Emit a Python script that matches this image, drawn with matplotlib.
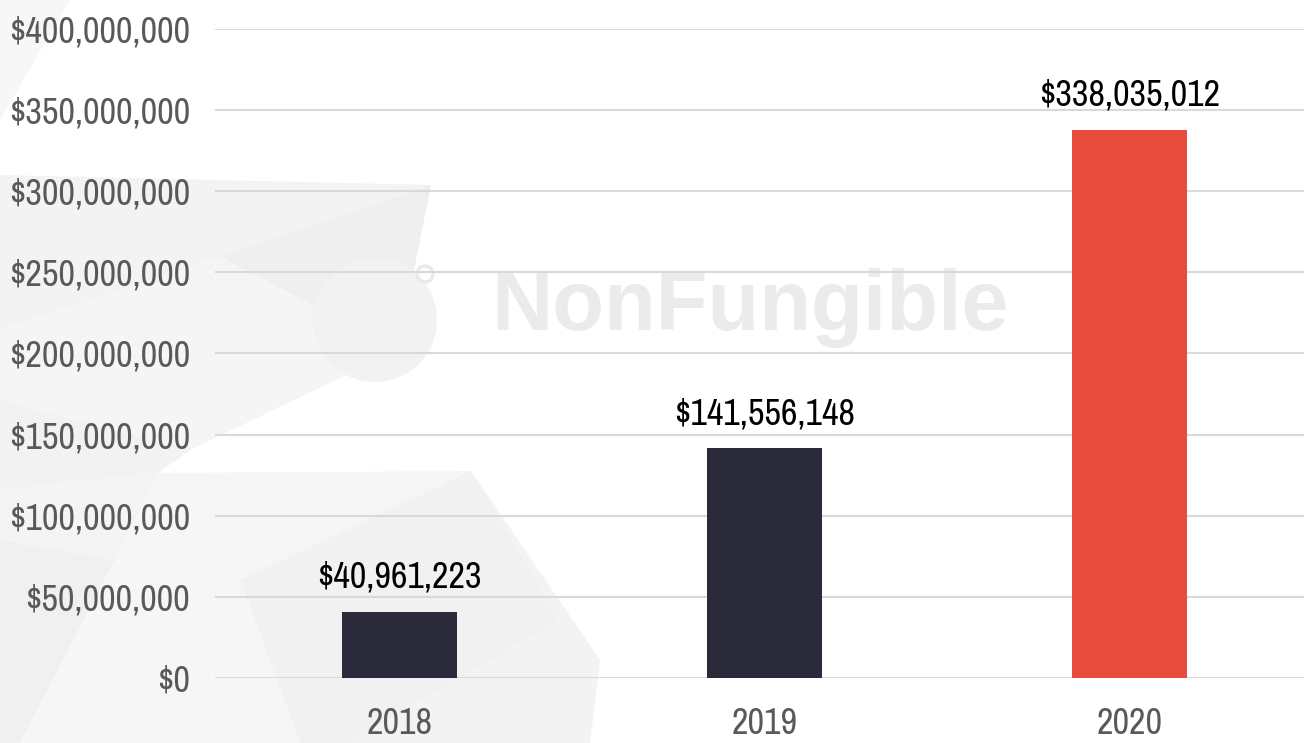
import matplotlib
matplotlib.use('Agg')
import matplotlib.pyplot as plt
from matplotlib import font_manager
from matplotlib.patches import Polygon, Ellipse
from matplotlib.ticker import FuncFormatter

# Data
years = ['2018', '2019', '2020']
sales = [40961223, 141556148, 338035012]
bar_colors = ['#2b2a3b', '#2b2a3b', '#e84c3d']
y_ticks = list(range(0, 400000001, 50000000))

# pick a narrow font if one is installed
fonts = font_manager.fontManager.ttflist
narrow = [f for f in fonts if 'Narrow' in f.name or 'Condensed' in f.name]
cond = [f for f in fonts if str(f.stretch) in ('condensed', 'semi-condensed', '75', '87')]
if narrow:
    family, stretch, size = narrow[0].name, 'normal', 26
elif cond:
    family, stretch, size = cond[0].name, 'condensed', 26
else:
    family, stretch, size = 'Liberation Sans', 'normal', 22
plt.rcParams['font.family'] = [family, 'DejaVu Sans']
plt.rcParams['font.stretch'] = stretch
plt.rcParams['font.weight'] = 'light'

fig = plt.figure(figsize=(13.04, 7.43), dpi=100)
fig.patch.set_facecolor('white')

# faint background shapes (pixel coords -> figure coords)
H = 743.0
W = 1304.0
def fp(pts):
    return [(px / W, 1 - py / H) for px, py in pts]

shapes = [
    ([(0, 0), (70, 0), (0, 60)], '#f4f4f4'),
    ([(0, 0), (70, 0), (0, 120)], '#f7f7f7'),
    ([(0, 175), (431, 185), (220, 257), (0, 330)], '#f3f3f3'),
    ([(220, 257), (431, 185), (398, 350)], '#efefef'),
    ([(0, 330), (220, 257), (398, 350), (190, 450), (0, 400)], '#f5f5f5'),
    ([(0, 400), (190, 450), (158, 473), (0, 490)], '#f2f2f2'),
    ([(0, 490), (158, 473), (115, 560), (0, 540)], '#f4f4f4'),
    ([(158, 473), (471, 471), (240, 580), (115, 560)], '#f6f6f6'),
    ([(240, 580), (471, 471), (560, 620), (350, 743), (300, 743)], '#f1f1f1'),
    ([(0, 540), (115, 560), (20, 743), (0, 743)], '#f0f0f0'),
    ([(115, 560), (240, 580), (300, 743), (20, 743)], '#f6f6f6'),
    ([(471, 471), (600, 660), (590, 743), (350, 743), (560, 620)], '#f3f3f3'),
]
for pts, c in shapes:
    fig.patches.append(Polygon(fp(pts), closed=True, transform=fig.transFigure,
                               facecolor=c, edgecolor='none', zorder=0))

# faint logo mark next to the watermark text
fig.patches.append(Ellipse((375 / W, 1 - 320 / H), 124 / W, 124 / H,
                           transform=fig.transFigure, facecolor='#f2f2f2',
                           edgecolor='none', zorder=0.5))
fig.patches.append(Ellipse((425 / W, 1 - 274 / H), 16 / W, 16 / H,
                           transform=fig.transFigure, facecolor='none',
                           edgecolor='#eaeaea', linewidth=2.5, zorder=0.5))

fig.text(0.5755, 0.585, 'NonFungible', fontsize=61, fontweight='bold',
         color='#ebebeb', family=['Liberation Sans', 'DejaVu Sans'],
         stretch='normal', ha='center', va='center', zorder=0.5)

ax = fig.add_axes([215 / W, 0.0875, 1089 / W, 0.8735])
ax.set_zorder(2)
ax.set_facecolor('none')

x = range(len(years))
bars = ax.bar(x, sales, width=0.315, color=bar_colors, zorder=3)

ax.set_xlim(-0.5055, 2.478)
ax.set_ylim(0, 400000000)
ax.set_yticks(y_ticks)
ax.yaxis.set_major_formatter(FuncFormatter(lambda v, p: f'${v:,.0f}'))
ax.set_xticks(list(x))
ax.set_xticklabels(years)
ax.grid(axis='y', color='#d9d9d9', linewidth=1.5, zorder=1)
ax.set_axisbelow(True)
for s in ax.spines.values():
    s.set_visible(False)
ax.tick_params(axis='both', length=0, labelsize=size, labelcolor='#595959')
ax.tick_params(axis='y', pad=18)
ax.tick_params(axis='x', pad=21)

for b, v in zip(bars, sales):
    ax.text(b.get_x() + b.get_width() / 2, v + 11000000, f'${v:,.0f}',
            ha='center', va='bottom', fontsize=size, color='black')

fig.savefig('out.png', dpi=100)
